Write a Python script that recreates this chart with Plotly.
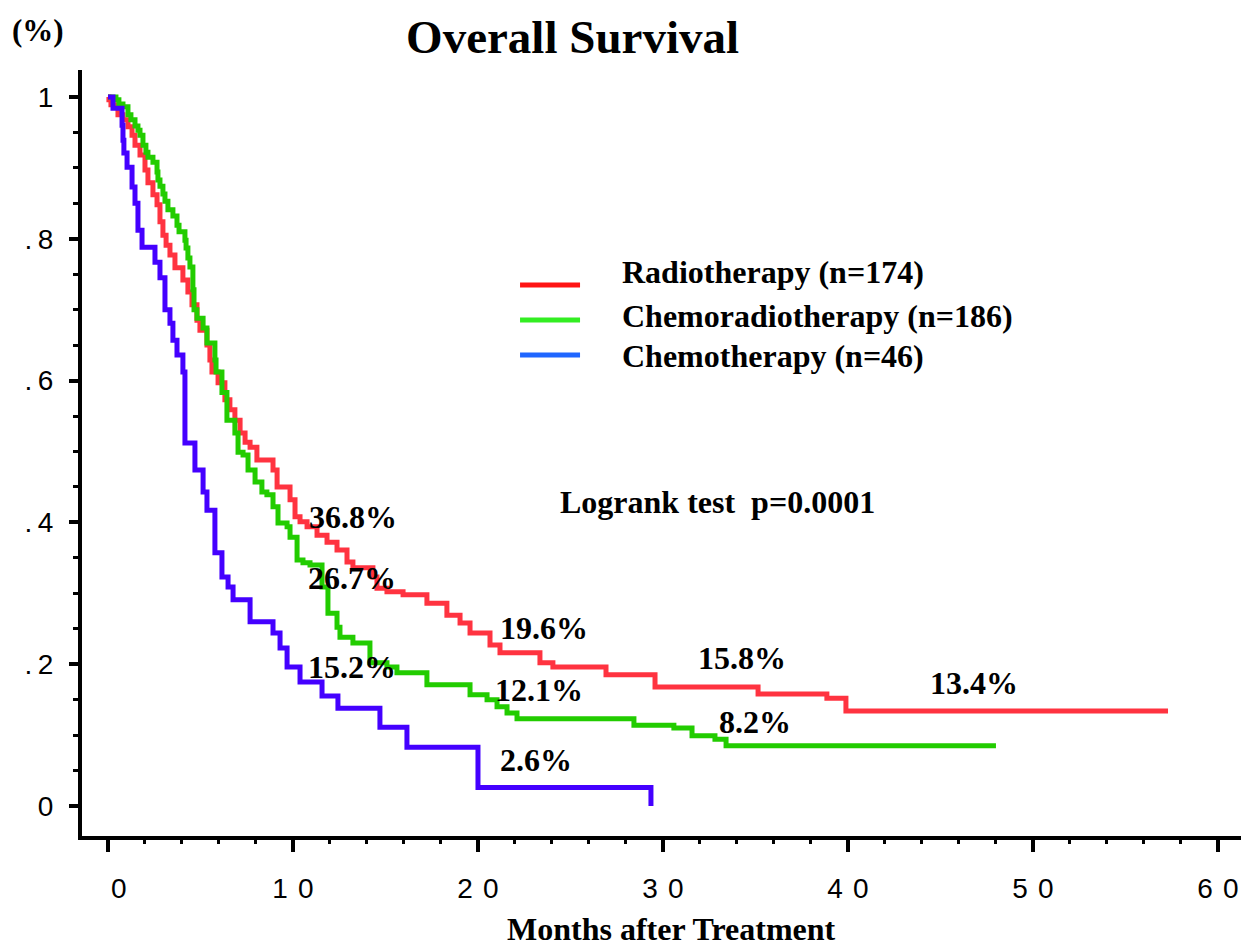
import plotly.graph_objects as go

# ---- data (months, survival proportion) ----
red_t = [0, 0.05, 0.16, 0.54, 0.81, 1.08, 1.30, 1.46, 1.73, 2.00, 2.16, 2.43, 2.65, 2.81, 2.97,
         3.14, 3.35, 3.62, 4.05, 4.32, 4.54, 4.81, 4.97, 5.35, 5.51, 5.62, 5.95, 6.32, 6.59, 6.86,
         7.14, 7.41, 7.68, 8.05, 8.92, 9.14, 9.84, 10.11, 10.38, 10.76, 11.30, 11.84, 12.38, 12.92,
         13.24, 14.32, 14.54, 15.08, 15.95, 17.24, 18.32, 19.03, 19.57, 20.65, 21.19, 23.35, 24.05,
         26.92, 29.57, 35.14, 38.86, 39.89, 57.3]
red_s = [1.0, 0.996, 0.989, 0.975, 0.968, 0.958, 0.946, 0.932, 0.918, 0.897, 0.879, 0.862, 0.848,
         0.824, 0.805, 0.791, 0.777, 0.759, 0.742, 0.725, 0.707, 0.685, 0.671, 0.650, 0.629, 0.612,
         0.597, 0.573, 0.559, 0.544, 0.526, 0.513, 0.506, 0.488, 0.474, 0.450, 0.432, 0.408, 0.401,
         0.394, 0.382, 0.372, 0.361, 0.344, 0.336, 0.323, 0.307, 0.302, 0.298, 0.286, 0.269, 0.258,
         0.244, 0.227, 0.216, 0.202, 0.196, 0.185, 0.168, 0.158, 0.152, 0.134, 0.134]

green_t = [0, 0.43, 0.59, 0.81, 1.08, 1.24, 1.46, 1.62, 1.73, 1.89, 2.05, 2.16, 2.43, 2.65, 2.70,
           2.81, 2.97, 3.08, 3.24, 3.51, 3.73, 3.84, 4.16, 4.22, 4.32, 4.43, 4.59, 4.65, 4.81, 5.14,
           5.35, 5.78, 5.84, 6.16, 6.43, 6.86, 7.03, 7.30, 7.57, 7.95, 8.32, 8.59, 8.92, 9.19, 9.68,
           9.84, 10.22, 10.54, 10.92, 11.57, 11.89, 12.38, 12.54, 13.24, 14.16, 15.08, 15.62, 17.24,
           19.57, 20.49, 21.03, 21.57, 22.11, 28.43, 30.59, 31.57, 32.81, 33.41, 48.0]
green_s = [1.0, 0.996, 0.990, 0.986, 0.975, 0.968, 0.959, 0.953, 0.946, 0.932, 0.922, 0.915, 0.908,
           0.894, 0.883, 0.874, 0.863, 0.853, 0.841, 0.832, 0.819, 0.810, 0.798, 0.787, 0.773, 0.760,
           0.728, 0.700, 0.688, 0.674, 0.653, 0.629, 0.612, 0.583, 0.544, 0.526, 0.499, 0.495, 0.474,
           0.457, 0.443, 0.439, 0.422, 0.399, 0.394, 0.379, 0.347, 0.343, 0.340, 0.309, 0.272, 0.252,
           0.238, 0.230, 0.202, 0.196, 0.188, 0.171, 0.157, 0.150, 0.140, 0.131, 0.123, 0.114, 0.110,
           0.099, 0.094, 0.085, 0.085]

blue_t = [0, 0.27, 0.76, 0.81, 0.86, 1.03, 1.30, 1.46, 1.62, 1.84, 2.54, 2.81, 3.08, 3.35, 3.51,
          3.73, 4.05, 4.16, 4.70, 5.14, 5.35, 5.78, 6.16, 6.49, 6.76, 7.68, 8.92, 9.30, 9.68, 10.38,
          11.57, 12.43, 14.70, 16.16, 20.0, 29.35]
blue_s = [1.0, 0.984, 0.960, 0.939, 0.921, 0.901, 0.873, 0.850, 0.812, 0.788, 0.767, 0.745, 0.700,
          0.681, 0.657, 0.636, 0.612, 0.512, 0.474, 0.443, 0.417, 0.357, 0.323, 0.309, 0.291, 0.260,
          0.244, 0.223, 0.196, 0.175, 0.155, 0.138, 0.111, 0.083, 0.026, 0.0]

series_names = ["Radiotherapy (n=174)", "Chemoradiotherapy (n=186)", "Chemotherapy (n=46)"]
line_colors = ["#ff3340", "#22cc00", "#4400ff"]
legend_colors = ["#ff1414", "#33ee22", "#1f66ff"]

# point labels
label_x = [10.75, 10.7, 21.1, 10.7, 20.8, 21.1, 31.8, 32.9, 44.3]
label_y = [0.408, 0.322, 0.251, 0.196, 0.164, 0.065, 0.209, 0.118, 0.173]
label_text = ["36.8%", "26.7%", "19.6%", "15.2%", "12.1%", "2.6%", "15.8%", "8.2%", "13.4%"]

x_tickvals = [0, 10, 20, 30, 40, 50, 60]
x_ticktext = ["\u2002 0", "1 \u200a0", "2 \u200a0", "3 \u200a0", "4 \u200a0", "5 \u200a0", "6 \u200a0"]
y_tickvals = [0, 0.2, 0.4, 0.6, 0.8, 1.0]
y_ticktext = ["0", ".\u20092", ".\u20094", ".\u20096", ".\u20098", "1"]

SERIF = "Liberation Serif"
SANS = "Liberation Sans"
BOLD = dict(family=SERIF, size=32, color="black", weight="bold")

fig = go.Figure()
for t, s, c, n in zip([red_t, green_t, blue_t], [red_s, green_s, blue_s], line_colors, series_names):
    fig.add_trace(go.Scatter(x=t, y=s, mode="lines", line=dict(color=c, width=5, shape="hv"),
                             name=n, showlegend=False, hoverinfo="skip"))

annotations = []
for x, y, txt in zip(label_x, label_y, label_text):
    annotations.append(dict(x=x, y=y, xref="x", yref="y", text=txt, showarrow=False,
                            xanchor="left", yanchor="middle", font=BOLD))

annotations.append(dict(x=24.3, y=0.429, xref="x", yref="y", text="Logrank test\u2002p=0.0001",
                        showarrow=False, xanchor="left", yanchor="middle", font=BOLD))

# custom legend (paper coordinates)
leg_line_y = [0.7193, 0.6736, 0.6279]
leg_text_y = [0.736, 0.679, 0.627]
shapes = []
for ly, ty, c, n in zip(leg_line_y, leg_text_y, legend_colors, series_names):
    shapes.append(dict(type="line", xref="paper", yref="paper", x0=0.376, x1=0.4275, y0=ly, y1=ly,
                       line=dict(color=c, width=5)))
    annotations.append(dict(x=0.4618, y=ty, xref="paper", yref="paper", text=n, showarrow=False,
                            xanchor="left", yanchor="middle", font=BOLD))

annotations.append(dict(x=-0.0378, y=1.052, xref="paper", yref="paper", text="(%)", showarrow=False,
                        xanchor="center", yanchor="middle",
                        font=dict(family=SERIF, size=31, color="black", weight="bold")))
annotations.append(dict(x=0.5064, y=-0.1214, xref="paper", yref="paper", text="Months after Treatment",
                        showarrow=False, xanchor="center", yanchor="middle",
                        font=dict(family=SERIF, size=32, color="black", weight="bold")))

fig.update_layout(
    width=1249, height=946, autosize=False,
    margin=dict(l=74, r=10, t=62, b=118, autoexpand=False),
    paper_bgcolor="white", plot_bgcolor="white",
    title=dict(text="Overall Survival", x=0.452, xanchor="center", y=0.970, yanchor="middle",
               yref="container", font=dict(family=SERIF, size=47, color="black", weight="bold")),
    annotations=annotations, shapes=shapes,
    showlegend=False,
)

fig.update_xaxes(range=[-1.405, 61.57], showgrid=False, zeroline=False, automargin=False,
                 showline=True, linewidth=4, linecolor="black",
                 tickmode="array", tickvals=x_tickvals, ticktext=x_ticktext,
                 ticks="outside", ticklen=12, tickwidth=4, tickcolor="black",
                 ticklabelstandoff=12,
                 tickfont=dict(family=SANS, size=28, color="black"),
                 minor=dict(dtick=2, tick0=0, ticks="outside", ticklen=4, tickwidth=3,
                            tickcolor="black", showgrid=False))
fig.update_yaxes(range=[-0.0423, 1.038], showgrid=False, zeroline=False, automargin=False,
                 showline=True, linewidth=4, linecolor="black",
                 tickmode="array", tickvals=y_tickvals, ticktext=y_ticktext,
                 ticks="outside", ticklen=9, tickwidth=4, tickcolor="black",
                 ticklabelstandoff=10,
                 tickfont=dict(family=SANS, size=28, color="black"),
                 minor=dict(dtick=0.05, tick0=0, ticks="outside", ticklen=5, tickwidth=3,
                            tickcolor="black", showgrid=False))

fig.write_html("out.html")
